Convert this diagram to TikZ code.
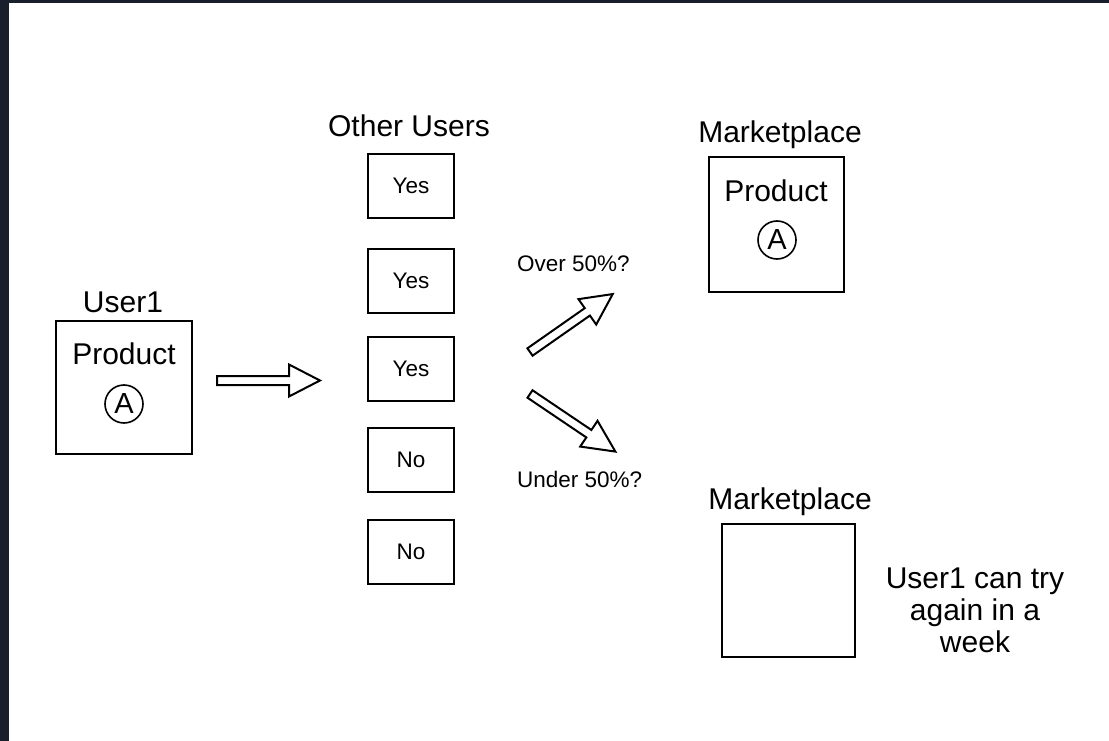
\documentclass[tikz,border=0pt]{standalone}
\usepackage{fontspec}
\setmainfont{Liberation Sans}
\definecolor{framec}{RGB}{26,31,44}
\begin{document}
\begin{tikzpicture}[x=1pt,y=-1pt,
  box/.style={draw, line width=2pt, inner sep=0pt},
  big/.style={font=\fontsize{30}{32}\selectfont, inner sep=0pt},
  small/.style={font=\fontsize{22.5}{26}\selectfont, inner sep=0pt},
  letter/.style={circle, draw, line width=1.6pt, minimum size=38pt, inner sep=0pt, font=\fontsize{29}{30}\selectfont},
  blockarrow/.style={draw, line width=2pt, line join=miter, fill=white}]
\useasboundingbox (0,0) rectangle (1109,741);
\fill[white] (0,0) rectangle (1109,741);
\fill[framec] (0,0) rectangle (1109,3);
\fill[framec] (0,0) rectangle (9,741);

% User1
\node[box, minimum width=136, minimum height=133] (user1) at (124,387.5) {};
\node[big, anchor=base] (user1lbl) at (123,312) {User1};
\node[big, anchor=base] (prod1) at (124,364) {Product};
\node[letter] (a1) at (124,404) {A};

% right arrow
\draw[blockarrow, shift={(217,380.5)}]
  (0,-4.5) -- (72,-4.5) -- (72,-16) -- (103,0) -- (72,16) -- (72,4.5) -- (0,4.5) -- cycle;

% Other users
\node[big, anchor=base] (otherlbl) at (409,137) {Other Users};
\node[box, minimum width=86, minimum height=64, small] (u1) at (411,186) {Yes};
\node[box, minimum width=86, minimum height=64, small] (u2) at (411,280.5) {Yes};
\node[box, minimum width=86, minimum height=64, small] (u3) at (411,368.5) {Yes};
\node[box, minimum width=86, minimum height=64, small] (u4) at (411,459.5) {No};
\node[box, minimum width=86, minimum height=64, small] (u5) at (411,552) {No};

% decision arrows
\node[small, anchor=base west] (over) at (517,271) {Over 50\%?};
\node[small, anchor=base west] (under) at (517,487) {Under 50\%?};
\draw[blockarrow, shift={(530,352)}, rotate=35]
  (0,-4.5) -- (70,-4.5) -- (70,-15.5) -- (101,0) -- (70,15.5) -- (70,4.5) -- (0,4.5) -- cycle;
\draw[blockarrow, shift={(530,394)}, rotate=-34]
  (0,-4.5) -- (71,-4.5) -- (71,-15.5) -- (103,0) -- (71,15.5) -- (71,4.5) -- (0,4.5) -- cycle;

% Marketplace with product
\node[big, anchor=base] (mp1lbl) at (780,143) {Marketplace};
\node[box, minimum width=135, minimum height=134] (mp1) at (776,224.5) {};
\node[big, anchor=base] (prod2) at (776,201) {Product};
\node[letter] (a2) at (777,240) {A};

% empty marketplace
\node[big, anchor=base] (mp2lbl) at (790,509) {Marketplace};
\node[box, minimum width=133, minimum height=133] (mp2) at (788,590) {};
\node[big, anchor=base, align=center] (retry) at (975,652) {User1 can try\\again in a\\week};
\end{tikzpicture}
\end{document}
